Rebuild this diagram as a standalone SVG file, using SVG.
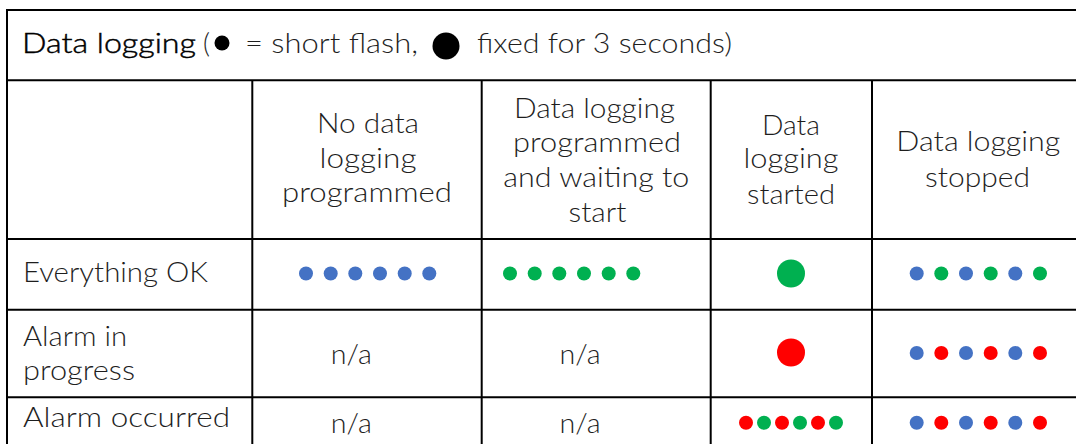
<svg xmlns="http://www.w3.org/2000/svg" width="1076" height="444" viewBox="0 0 1076 444">
  <style>
    .grid { stroke: #000; stroke-width: 2; fill: none; }
    .t { font-family: Lato, "Liberation Sans", sans-serif; font-weight: 300; font-size: 27px; fill: #1e1e1e; }
    .c { text-anchor: middle; }
    .title { font-weight: 300; fill: #000; stroke: #000; stroke-width: 0.45; }
    .b { fill: #4472C4; }
    .g { fill: #00B050; }
    .r { fill: #FF0000; }
    .k { fill: #000; }
  </style>

  <rect width="1076" height="444" fill="#fff"/>

  <!-- table grid -->
  <g id="grid" class="grid">
    <line x1="6" y1="10" x2="1076" y2="10"/>
    <line x1="7" y1="9" x2="7" y2="444"/>
    <line x1="6" y1="80.3" x2="1076" y2="80.3"/>
    <line x1="6" y1="239" x2="1076" y2="239"/>
    <line x1="6" y1="309.7" x2="1076" y2="309.7"/>
    <line x1="6" y1="397.3" x2="1076" y2="397.3"/>
    <line x1="252.3" y1="80" x2="252.3" y2="444"/>
    <line x1="481.7" y1="80" x2="481.7" y2="444"/>
    <line x1="710.7" y1="80" x2="710.7" y2="444"/>
    <line x1="872" y1="80" x2="872" y2="444"/>
  </g>

  <!-- title row with legend -->
  <g id="title">
    <text class="t title" x="22" y="53" textLength="174" lengthAdjust="spacingAndGlyphs">Data logging</text>
    <text class="t" x="203" y="53">(</text>
    <circle class="k" cx="222" cy="43" r="7.5"/>
    <text class="t" x="245" y="53" textLength="173" lengthAdjust="spacingAndGlyphs">= short flash,</text>
    <circle class="k" cx="446" cy="46" r="13.5"/>
    <text class="t" x="477" y="53" textLength="255" lengthAdjust="spacingAndGlyphs">fixed for 3 seconds)</text>
  </g>

  <!-- column headings -->
  <g id="head-none">
    <text class="t c" x="368" y="133.3" textLength="102" lengthAdjust="spacingAndGlyphs">No data</text>
    <text class="t c" x="368" y="167.7" textLength="97" lengthAdjust="spacingAndGlyphs">logging</text>
    <text class="t c" x="367" y="201.7" textLength="170" lengthAdjust="spacingAndGlyphs">programmed</text>
  </g>
  <g id="head-waiting">
    <text class="t c" x="594.5" y="117.7" textLength="161" lengthAdjust="spacingAndGlyphs">Data logging</text>
    <text class="t c" x="597" y="151.7" textLength="168" lengthAdjust="spacingAndGlyphs">programmed</text>
    <text class="t c" x="596.3" y="186.7" textLength="186" lengthAdjust="spacingAndGlyphs">and waiting to</text>
    <text class="t c" x="597.5" y="221.7" textLength="58" lengthAdjust="spacingAndGlyphs">start</text>
  </g>
  <g id="head-started">
    <text class="t c" x="791" y="135" textLength="58" lengthAdjust="spacingAndGlyphs">Data</text>
    <text class="t c" x="791" y="168.3" textLength="95" lengthAdjust="spacingAndGlyphs">logging</text>
    <text class="t c" x="791" y="204" textLength="88" lengthAdjust="spacingAndGlyphs">started</text>
  </g>
  <g id="head-stopped">
    <text class="t c" x="978.3" y="150.7" textLength="164" lengthAdjust="spacingAndGlyphs">Data logging</text>
    <text class="t c" x="977.5" y="186.7" textLength="105" lengthAdjust="spacingAndGlyphs">stopped</text>
  </g>

  <!-- row headings -->
  <g id="row-ok">
    <text class="t" x="23" y="282.3" textLength="185" lengthAdjust="spacingAndGlyphs">Everything OK</text>
  </g>
  <g id="row-alarm">
    <text class="t" x="23" y="345.7" textLength="104" lengthAdjust="spacingAndGlyphs">Alarm in</text>
    <text class="t" x="23" y="379.5" textLength="112" lengthAdjust="spacingAndGlyphs">progress</text>
  </g>
  <g id="row-occurred">
    <text class="t" x="23" y="426.7" textLength="207" lengthAdjust="spacingAndGlyphs">Alarm occurred</text>
  </g>

  <!-- Everything OK -->
  <g id="ok-none">
    <circle class="b" cx="306" cy="273.5" r="7"/>
    <circle class="b" cx="330.7" cy="273.5" r="7"/>
    <circle class="b" cx="355.3" cy="273.5" r="7"/>
    <circle class="b" cx="380" cy="273.5" r="7"/>
    <circle class="b" cx="404.7" cy="273.5" r="7"/>
    <circle class="b" cx="429.3" cy="273.5" r="7"/>
  </g>
  <g id="ok-waiting">
    <circle class="g" cx="510" cy="273.5" r="7"/>
    <circle class="g" cx="534.7" cy="273.5" r="7"/>
    <circle class="g" cx="559.3" cy="273.5" r="7"/>
    <circle class="g" cx="584" cy="273.5" r="7"/>
    <circle class="g" cx="608.7" cy="273.5" r="7"/>
    <circle class="g" cx="633.3" cy="273.5" r="7"/>
  </g>
  <g id="ok-started">
    <circle class="g" cx="791" cy="273.5" r="14"/>
  </g>
  <g id="ok-stopped">
    <circle class="b" cx="916.7" cy="273.5" r="7"/>
    <circle class="g" cx="941.3" cy="273.5" r="7"/>
    <circle class="b" cx="966" cy="273.5" r="7"/>
    <circle class="g" cx="990.7" cy="273.5" r="7"/>
    <circle class="b" cx="1015.3" cy="273.5" r="7"/>
    <circle class="g" cx="1040" cy="273.5" r="7"/>
  </g>

  <!-- Alarm in progress -->
  <g id="alarm-none">
    <text class="t c" x="351.3" y="364.3" textLength="41" lengthAdjust="spacingAndGlyphs">n/a</text>
  </g>
  <g id="alarm-waiting">
    <text class="t c" x="580" y="364.3" textLength="41" lengthAdjust="spacingAndGlyphs">n/a</text>
  </g>
  <g id="alarm-started">
    <circle class="r" cx="791" cy="352.5" r="14"/>
  </g>
  <g id="alarm-stopped">
    <circle class="b" cx="916.7" cy="353" r="7"/>
    <circle class="r" cx="941.3" cy="353" r="7"/>
    <circle class="b" cx="966" cy="353" r="7"/>
    <circle class="r" cx="990.7" cy="353" r="7"/>
    <circle class="b" cx="1015.3" cy="353" r="7"/>
    <circle class="r" cx="1040" cy="353" r="7"/>
  </g>

  <!-- Alarm occurred -->
  <g id="occurred-none">
    <text class="t c" x="351.3" y="433.3" textLength="41" lengthAdjust="spacingAndGlyphs">n/a</text>
  </g>
  <g id="occurred-waiting">
    <text class="t c" x="580" y="433.3" textLength="41" lengthAdjust="spacingAndGlyphs">n/a</text>
  </g>
  <g id="occurred-started">
    <circle class="r" cx="746" cy="422.7" r="7"/>
    <circle class="g" cx="764" cy="422.7" r="7"/>
    <circle class="r" cx="782" cy="422.7" r="7"/>
    <circle class="g" cx="800" cy="422.7" r="7"/>
    <circle class="r" cx="818" cy="422.7" r="7"/>
    <circle class="g" cx="836" cy="422.7" r="7"/>
  </g>
  <g id="occurred-stopped">
    <circle class="b" cx="916.7" cy="422.7" r="7"/>
    <circle class="r" cx="941.3" cy="422.7" r="7"/>
    <circle class="b" cx="966" cy="422.7" r="7"/>
    <circle class="r" cx="990.7" cy="422.7" r="7"/>
    <circle class="b" cx="1015.3" cy="422.7" r="7"/>
    <circle class="r" cx="1040" cy="422.7" r="7"/>
  </g>
</svg>
